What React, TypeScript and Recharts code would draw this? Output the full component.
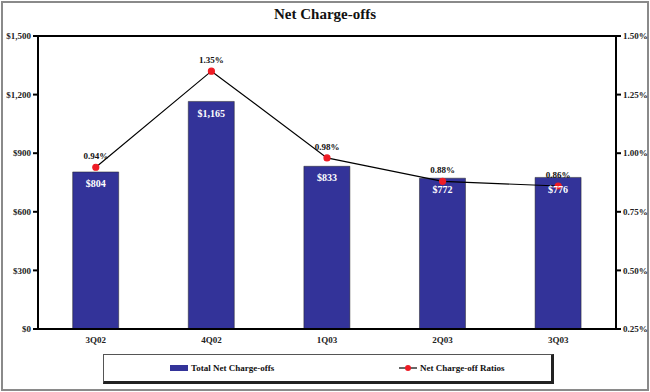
import React from 'react';
import { ComposedChart, Bar, Line, XAxis, YAxis, LabelList, ReferenceLine } from 'recharts';

const categories = ['3Q02', '4Q02', '1Q03', '2Q03', '3Q03'];
const netChargeOffs = [804, 1165, 833, 772, 776];
const chargeOffRatios = [0.94, 1.35, 0.98, 0.88, 0.86];
const leftTicks = [0, 300, 600, 900, 1200, 1500];
const rightTicks = [0.25, 0.5, 0.75, 1.0, 1.25, 1.5];

const data = categories.map((c, i) => ({ name: c, total: netChargeOffs[i], ratio: chargeOffRatios[i] }));

const font = '"Liberation Serif", "Times New Roman", serif';
const BAR = '#333399';

const fmtMoney = (v: number) => '$' + v.toLocaleString('en-US');
const fmtPct = (v: number) => v.toFixed(2) + '%';

export default function App() {
  return (
    <div style={{ position: 'absolute', left: 0, top: 0, width: 650, height: 392, background: '#fff', fontFamily: font }}>
      <div style={{ position: 'absolute', left: 1, top: 1, width: 644, height: 386, border: '2px solid #8a8a8a' }} />
      <div style={{ position: 'absolute', left: 0, top: 6, width: 650, textAlign: 'center', fontWeight: 'bold', fontSize: 15, color: '#111' }}>
        Net Charge-offs
      </div>
      <div style={{ position: 'absolute', left: 0, top: 0 }}>
        <ComposedChart width={650} height={392} data={data} margin={{ top: 36, right: 0, bottom: 43, left: 0 }} barCategoryGap="30%">
          <XAxis dataKey="name" stroke="#000" strokeWidth={2} tickLine={false} height={20}
            tick={{ fontSize: 9, fontWeight: 'bold', fill: '#222', fontFamily: font }} />
          <YAxis yAxisId="left" orientation="left" width={38} domain={[0, 1500]} ticks={leftTicks}
            tickFormatter={fmtMoney} stroke="#000" strokeWidth={2} tickSize={5}
            tick={{ fontSize: 9, fontWeight: 'bold', fill: '#222', fontFamily: font }} interval={0} />
          <YAxis yAxisId="right" orientation="right" width={34} domain={[0.25, 1.5]} ticks={rightTicks}
            tickFormatter={fmtPct} stroke="#000" strokeWidth={2} tickSize={5}
            tick={{ fontSize: 9, fontWeight: 'bold', fill: '#222', fontFamily: font }} interval={0} />
          <ReferenceLine yAxisId="left" y={1500} stroke="#000" strokeWidth={2} />
          <Bar yAxisId="left" dataKey="total" fill={BAR} stroke="#222" strokeWidth={0.5} isAnimationActive={false}>
            <LabelList dataKey="total" position="insideTop" offset={8} formatter={(v: any) => fmtMoney(Number(v))}
              style={{ fill: '#fff', fontSize: 10, fontWeight: 'bold', fontFamily: font }} />
          </Bar>
          <Line yAxisId="right" dataKey="ratio" stroke="#000" strokeWidth={1.2} isAnimationActive={false}
            dot={{ r: 3, fill: '#ee1c25', stroke: '#ee1c25' }} activeDot={false}>
            <LabelList dataKey="ratio" position="top" offset={8} formatter={(v: any) => fmtPct(Number(v))}
              style={{ fill: '#111', fontSize: 9, fontWeight: 'bold', fontFamily: font }} />
          </Line>
        </ComposedChart>
      </div>
      <div style={{ position: 'absolute', left: 103, top: 354, width: 447, height: 26, border: '1px solid #555', borderRightWidth: 3, borderBottomWidth: 3, borderColor: '#555 #222 #222 #555', fontSize: 9, fontWeight: 'bold', color: '#111' }}>
        <div style={{ position: 'absolute', left: 66, top: 8, display: 'flex', alignItems: 'center' }}>
          <svg width={18} height={6} style={{ marginRight: 3 }}><rect x={0} y={0} width={18} height={6} fill={BAR} /></svg>
          Total Net Charge-offs
        </div>
        <div style={{ position: 'absolute', left: 295, top: 8, display: 'flex', alignItems: 'center' }}>
          <svg width={18} height={8} style={{ marginRight: 3 }}>
            <line x1={0} y1={4} x2={18} y2={4} stroke="#000" strokeWidth={1.2} />
            <circle cx={9} cy={4} r={3} fill="#ee1c25" />
          </svg>
          Net Charge-off Ratios
        </div>
      </div>
    </div>
  );
}
